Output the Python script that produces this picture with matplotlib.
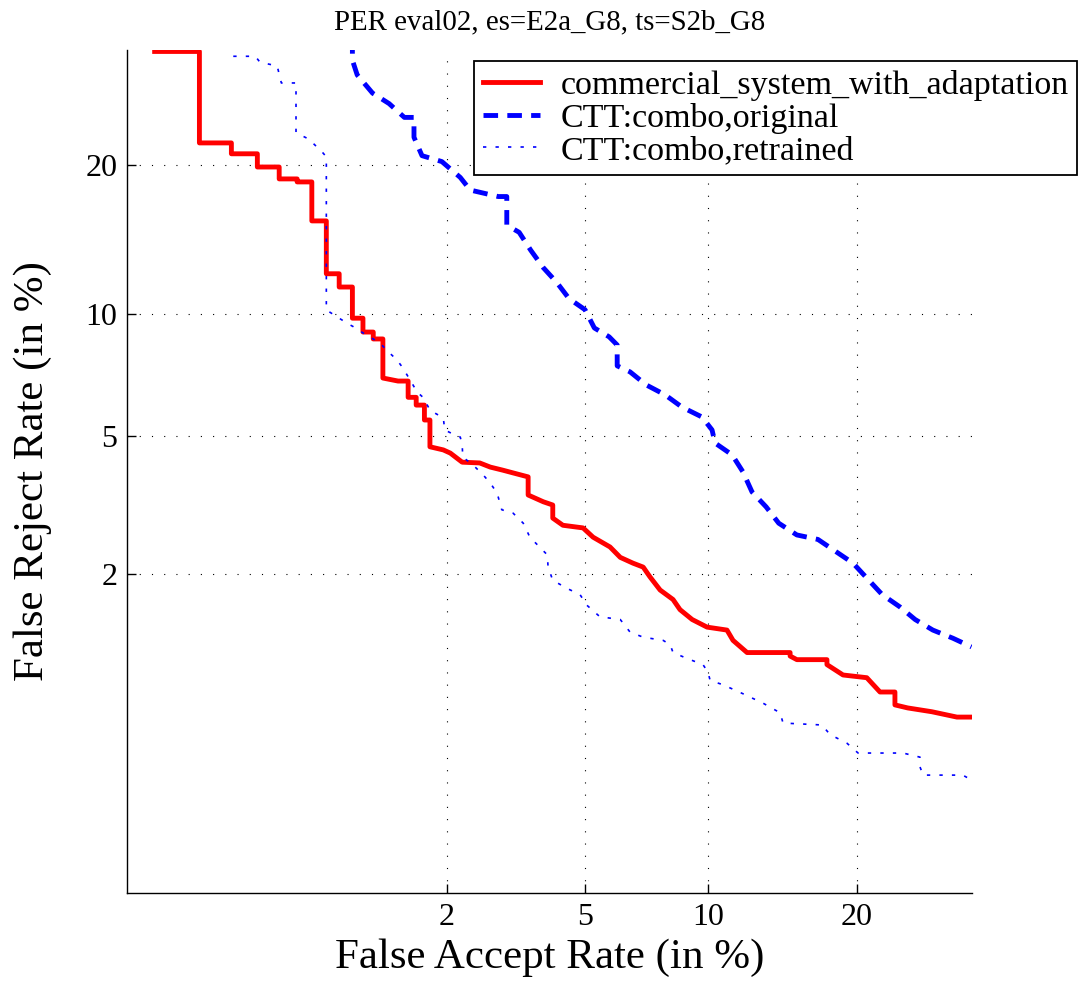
import numpy as np
import matplotlib
matplotlib.use("Agg")
import matplotlib.pyplot as plt
from statistics import NormalDist

# DET curve values, in percent (false accept, false reject)
comm_fa = [0.176, 0.267, 0.267, 0.356, 0.356, 0.447, 0.447, 0.539, 0.539, 0.627, 0.627, 0.708,
           0.708, 0.797, 0.797, 0.884, 0.884, 0.982, 0.982, 1.067, 1.067, 1.156, 1.156, 1.245,
           1.245, 1.397, 1.507, 1.507, 1.60, 1.60, 1.70, 1.70, 1.77, 1.77, 1.95, 2.05, 2.23,
           2.52, 2.71, 2.95, 3.16, 3.49, 3.49, 3.85, 4.09, 4.09, 4.36, 4.94, 5.25, 5.81, 6.17,
           6.64, 7.04, 7.31, 7.74, 8.31, 8.63, 9.21, 9.96, 11.03, 11.37, 12.19, 14.96, 14.96,
           15.43, 17.64, 17.64, 18.90, 20.86, 22.0, 23.33, 23.33, 24.5, 26.8, 29.3, 30.8]
comm_fr = [30.7, 30.7, 21.9, 21.9, 20.96, 20.96, 19.85, 19.85, 18.88, 18.88, 18.64, 18.64,
           15.70, 15.70, 12.23, 12.23, 11.45, 11.45, 9.76, 9.76, 9.07, 9.07, 8.74, 8.74,
           7.04, 6.92, 6.92, 6.30, 6.30, 6.02, 6.02, 5.51, 5.51, 4.68, 4.59, 4.50, 4.25,
           4.23, 4.12, 4.04, 3.97, 3.87, 3.44, 3.29, 3.22, 2.95, 2.81, 2.76, 2.59, 2.42, 2.25,
           2.16, 2.10, 1.96, 1.78, 1.66, 1.54, 1.43, 1.35, 1.32, 1.22, 1.11, 1.11, 1.08,
           1.05, 1.05, 1.01, 0.93, 0.91, 0.811, 0.811, 0.73, 0.712, 0.69, 0.66, 0.66]

orig_fa = [0.982, 0.982, 1.02, 1.150, 1.305, 1.465, 1.574, 1.574, 1.67, 1.93, 2.20, 2.36, 2.86,
           3.03, 3.03, 3.29, 3.55, 3.85, 4.20, 4.53, 5.00, 5.29, 5.78, 6.06, 6.06, 6.53, 7.16,
           7.96, 8.72, 9.70, 10.22, 10.38, 11.32, 11.94, 12.49, 13.37, 14.19, 15.43, 16.96,
           18.43, 19.71, 20.87, 22.2, 23.8, 25.2, 26.9, 28.9, 30.8]
orig_fr = [32.0, 29.8, 28.3, 26.5, 25.5, 24.2, 24.2, 22.4, 20.8, 20.3, 19.0, 18.0, 17.5,
           17.5, 15.4, 14.9, 13.7, 12.6, 11.7, 10.8, 10.2, 9.27, 8.84, 8.46, 7.54, 7.29, 6.77,
           6.39, 5.95, 5.61, 5.19, 4.79, 4.45, 4.00, 3.51, 3.18, 2.85, 2.63, 2.55,
           2.33, 2.16, 1.94, 1.72, 1.57, 1.43, 1.32, 1.24, 1.16]

retr_fa = [0.362, 0.439, 0.457, 0.530, 0.549, 0.621, 0.621, 0.69, 0.77, 0.797, 0.797, 0.848,
           0.94, 0.99, 1.067, 1.218, 1.28, 1.386, 1.44, 1.53, 1.61, 1.69, 1.77, 1.95, 1.97,
           2.09, 2.20, 2.23, 2.24, 2.41, 2.58, 2.71, 2.84, 2.93, 3.16, 3.38, 3.53, 3.95, 3.97,
           4.09, 4.48, 4.85, 5.06, 5.47, 6.17, 6.53, 7.04, 7.87, 8.18, 8.31, 8.96, 9.75,
           10.01, 10.12, 10.81, 11.94, 13.18, 14.28, 14.48, 17.26, 17.88, 19.21, 20.13,
           24.07, 25.66, 25.66, 25.95, 29.9, 30.8]
retr_fr = [30.2, 30.2, 29.6, 29.2, 27.5, 27.5, 22.8, 22.24, 21.12, 20.70, 10.19, 9.93,
           9.51, 9.33, 9.03, 8.55, 8.23, 7.79, 7.50, 6.96, 6.50, 6.28, 5.84, 5.58, 5.19,
           5.06, 4.97, 4.74, 4.39, 4.17, 3.92, 3.72, 3.48, 3.12, 3.05, 2.85, 2.59, 2.29, 2.10,
           1.91, 1.80, 1.72, 1.59, 1.46, 1.43, 1.30, 1.25, 1.22, 1.18, 1.11, 1.06, 1.01,
           0.95, 0.89, 0.86, 0.80, 0.74, 0.684, 0.628, 0.618, 0.57, 0.53, 0.487,
           0.487, 0.470, 0.432, 0.402, 0.402, 0.385]

tick_vals = [2, 5, 10, 20]
labels = ["commercial_system_with_adaptation", "CTT:combo,original", "CTT:combo,retrained"]

_nd = NormalDist()
_ppf = np.vectorize(_nd.inv_cdf, otypes=[float])
_cdf = np.vectorize(_nd.cdf, otypes=[float])


def probit(p):
    p = np.clip(np.asarray(p, dtype=float) / 100.0, 1e-12, 1 - 1e-12)
    return _ppf(p)


def unprobit(z):
    return _cdf(np.asarray(z, dtype=float)) * 100.0


plt.rcParams["font.family"] = "Liberation Serif"

fig = plt.figure(figsize=(10.83, 9.84), dpi=100)
ax = fig.add_axes([0.11727, 0.09248, 0.78024, 0.85671])
ax.set_xscale("function", functions=(probit, unprobit))
ax.set_yscale("function", functions=(probit, unprobit))

ax.plot(comm_fa, comm_fr, color="#ff0000", lw=3.5, label=labels[0])
ax.plot(orig_fa, orig_fr, color="#0000ff", lw=3.5, linestyle=(0, (3.0, 1.9)), label=labels[1])
ax.plot(retr_fa, retr_fr, color="#0000ff", lw=1.2, linestyle=(0, (2, 5.5)), label=labels[2])

lim = (float(unprobit(-3.0)), float(unprobit(-0.5)))
ax.set_xlim(lim)
ax.set_ylim(lim)
ax.set_xticks(tick_vals)
ax.set_yticks(tick_vals)
ax.set_xticklabels([str(t) for t in tick_vals])
ax.set_yticklabels([str(t) for t in tick_vals])
ax.xaxis.set_minor_locator(matplotlib.ticker.NullLocator())
ax.yaxis.set_minor_locator(matplotlib.ticker.NullLocator())
ax.tick_params(direction="in", length=6.5, width=1, labelsize=23, pad=7)

ax.grid(True, color="k", lw=0.8, linestyle=(0, (1, 10)))
ax.spines["top"].set_visible(False)
ax.spines["right"].set_visible(False)
for s in ("left", "bottom"):
    ax.spines[s].set_linewidth(1.0)

ax.set_xlabel("False Accept Rate (in %)", fontsize=31, labelpad=5)
ax.set_ylabel("False Reject Rate (in %)", fontsize=31, labelpad=24)
ax.set_title("PER eval02, es=E2a_G8, ts=S2b_G8", fontsize=20.8, pad=15)

leg = ax.legend(loc="upper left", bbox_to_anchor=(474 / 1083, 1 - 61 / 984),
                bbox_transform=fig.transFigure, fontsize=24.5, frameon=True, fancybox=False,
                edgecolor="k", framealpha=1, handlelength=1.7, handletextpad=0.6,
                labelspacing=0.06, borderpad=0.25, borderaxespad=0)
leg.get_frame().set_linewidth(1.3)

fig.savefig("out.png", dpi=100)
